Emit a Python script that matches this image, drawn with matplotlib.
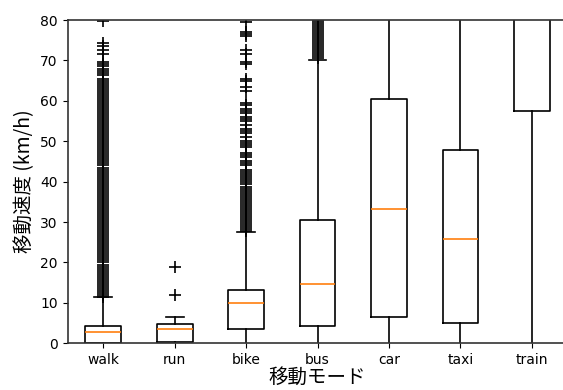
import matplotlib
matplotlib.use('Agg')
import matplotlib.pyplot as plt

# ========== データ ==========
modes = ['walk', 'run', 'bike', 'bus', 'car', 'taxi', 'train']
q1 = [0.1, 0.3, 3.5, 4.4, 6.6, 5.0, 57.6]
med = [2.8, 3.5, 9.9, 14.7, 33.2, 25.8, 95.0]
q3 = [4.4, 4.7, 13.1, 30.5, 60.5, 47.8, 130.0]
whislo = [-1.0, -1.0, -1.0, -1.0, -1.0, -1.0, -1.0]
whishi = [11.4, 6.6, 27.6, 70.0, 120.0, 110.0, 250.0]

walk_fliers = [
    11.5, 12.0, 12.5, 13.0, 13.5, 14.0, 14.5, 15.0, 15.5, 16.0,
    16.5, 17.0, 17.5, 18.0, 18.5, 19.0, 19.5, 20.0, 20.5, 21.0,
    21.5, 22.0, 22.5, 23.0, 23.5, 24.0, 24.5, 25.0, 25.5, 26.0,
    26.5, 27.0, 27.5, 28.0, 28.5, 29.0, 29.5, 30.0, 30.5, 31.0,
    31.5, 32.0, 32.5, 33.0, 33.5, 34.0, 34.5, 35.0, 35.5, 36.0,
    36.5, 37.0, 37.5, 38.0, 38.5, 39.0, 39.5, 40.0, 40.5, 41.0,
    41.5, 42.0, 42.5, 43.0, 43.5, 44.0, 44.5, 45.0, 45.5, 46.0,
    46.5, 47.0, 47.5, 48.0, 48.5, 49.0, 49.5, 50.0, 50.5, 51.0,
    51.5, 52.0, 52.5, 53.0, 53.5, 54.0, 54.5, 55.0, 55.5, 56.0,
    56.5, 57.0, 57.5, 58.0, 58.5, 59.0, 59.5, 60.0, 60.5, 61.0,
    61.5, 62.0, 62.5, 63.0, 63.5, 64.0, 64.5, 65.0, 65.5, 66.5,
    67.0, 67.5, 68.0, 68.5, 69.0, 69.5, 71.5, 72.5, 73.5, 74.2,
    79.8,
]
run_fliers = [12.0, 18.8]
bike_fliers = [
    27.8, 28.3, 28.8, 29.3, 29.8, 30.3, 30.8, 31.3, 31.8, 32.3,
    32.8, 33.3, 33.8, 34.3, 34.8, 35.3, 35.8, 36.3, 36.8, 37.3,
    37.8, 38.3, 38.8, 39.3, 40.0, 40.5, 41.0, 41.5, 42.0, 42.5,
    43.0, 44.0, 44.5, 45.0, 46.0, 46.5, 47.0, 48.5, 49.0, 49.5,
    50.0, 51.0, 52.0, 52.5, 53.0, 54.0, 55.0, 55.5, 56.0, 57.0,
    57.5, 58.0, 59.0, 59.5, 62.5, 63.5, 65.0, 65.5, 69.0, 69.5,
    71.5, 72.5, 76.0, 76.5, 77.0, 79.5,
]
bus_fliers = [
    70.5, 71.0, 71.5, 72.0, 72.5, 73.0, 73.5, 74.0, 74.5, 75.0,
    75.5, 76.0, 76.5, 77.0, 77.5, 78.0, 78.5, 79.0, 79.5, 80.0,
    80.5,
]
fliers = [walk_fliers, run_fliers, bike_fliers, bus_fliers, [], [], []]

stats = []
for i, m in enumerate(modes):
    stats.append(dict(label=m, q1=q1[i], med=med[i], q3=q3[i],
                      whislo=whislo[i], whishi=whishi[i], fliers=fliers[i]))

# ========== 描画 ==========
fig = plt.figure(figsize=(5.63, 3.9), dpi=100)
ax = fig.add_axes([0.12, 0.1197, 0.888, 0.829])
ax.bxp(stats, widths=0.5,
       boxprops=dict(linewidth=1.2),
       whiskerprops=dict(linewidth=1.2),
       capprops=dict(linewidth=1.2),
       medianprops=dict(color='C1', linewidth=1.2),
       flierprops=dict(marker='+', markersize=9, markeredgewidth=1.2,
                       markeredgecolor='black'))
ax.set_ylim(0, 80)
for s in ax.spines.values():
    s.set_linewidth(1.2)
    s.set_color('#333333')
ax.tick_params(labelsize=10)
jp = ['Noto Sans CJK JP', 'DejaVu Sans']
ax.set_ylabel('移動速度 (km/h)', fontsize=14, family=jp)
ax.set_xlabel('移動モード', fontsize=14, family=jp, labelpad=0)
fig.savefig('out.png', dpi=100)
